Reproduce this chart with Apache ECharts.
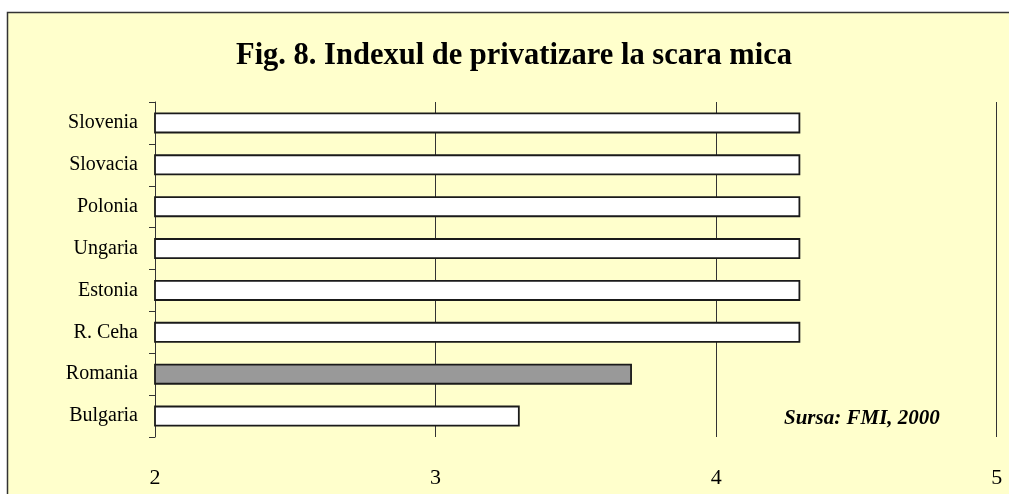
<!DOCTYPE html>
<html>
<head>
<meta charset="utf-8">
<script src="https://cdn.jsdelivr.net/npm/echarts@6/dist/echarts.min.js"></script>
<style>
  html, body { margin: 0; padding: 0; background: #fff; }
  #main { width: 1009px; height: 494px; }
</style>
</head>
<body>
<div id="main"></div>
<script>
// tarile, de sus in jos
const countries = ['Slovenia', 'Slovacia', 'Polonia', 'Ungaria', 'Estonia', 'R. Ceha', 'Romania', 'Bulgaria']
// indexul de privatizare la scara mica
const indexValues = [4.3, 4.3, 4.3, 4.3, 4.3, 4.3, 3.7, 3.3]
const xTicks = [2, 3, 4, 5]

const chart = echarts.init(document.getElementById('main'))

const serif = '"Liberation Serif", "DejaVu Serif", serif'

const option = {
  backgroundColor: '#fff',
  animation: false,
  graphic: [
    {
      // fundalul galben cu chenar
      type: 'rect',
      z: -10,
      shape: { x: 7.5, y: 12.5, width: 1020, height: 500 },
      style: { fill: '#FFFFCC', stroke: '#333', lineWidth: 1.5 },
    },
    {
      type: 'text',
      left: 784,
      top: 408,
      style: {
        text: 'Sursa: FMI, 2000',
        font: 'italic bold 21px ' + serif,
        fill: '#000',
      },
    },
  ],
  title: {
    text: 'Fig. 8. Indexul de privatizare la scara mica',
    left: 509,
    textAlign: 'center',
    top: 36,
    textStyle: {
      fontFamily: serif,
      fontSize: 30.5,
      fontWeight: 'bold',
      color: '#000',
    },
  },
  grid: {
    left: 155,
    right: 12.3,
    top: 102,
    bottom: 57,
    containLabel: false,
  },
  xAxis: {
    type: 'value',
    min: xTicks[0],
    max: xTicks[xTicks.length - 1],
    interval: 1,
    axisLine: { show: false },
    axisTick: { show: false },
    axisLabel: {
      margin: 30,
      fontFamily: serif,
      fontSize: 22,
      color: '#000',
      formatter: (v) => (xTicks.includes(v) ? String(v) : ''),
    },
    splitLine: {
      show: true,
      lineStyle: { color: '#333', width: 1 },
    },
  },
  yAxis: {
    type: 'category',
    inverse: true,
    data: countries,
    axisLine: { show: true, lineStyle: { color: '#333', width: 1 } },
    axisTick: { show: true, length: 6, lineStyle: { color: '#333' } },
    axisLabel: {
      margin: 17,
      fontFamily: serif,
      fontSize: 20,
      color: '#000',
    },
    splitLine: { show: false },
  },
  series: [
    {
      type: 'bar',
      barWidth: '50%',
      data: indexValues.map((v, i) => ({
        value: v,
        itemStyle: {
          color: countries[i] === 'Romania' ? '#999999' : '#FFFFFF',
        },
      })),
      itemStyle: {
        borderColor: '#1a1a1a',
        borderWidth: 1.8,
      },
    },
  ],
}

chart.setOption(option)
</script>
</body>
</html>
